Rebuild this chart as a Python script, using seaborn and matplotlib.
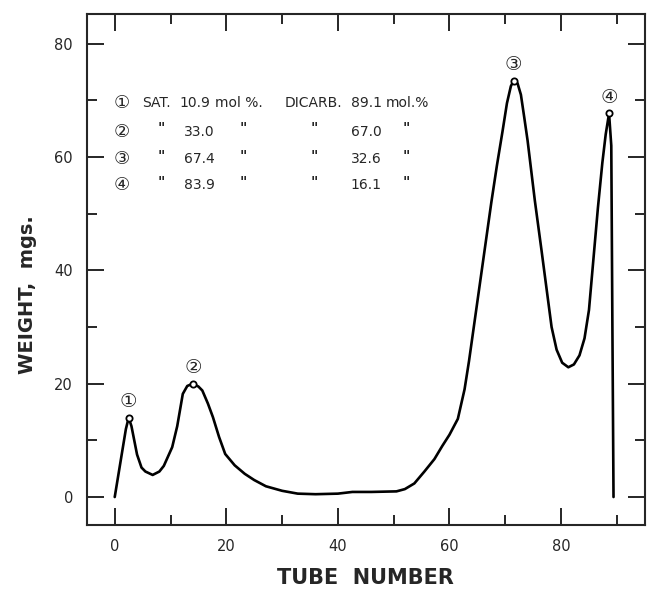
import numpy as np
import pandas as pd
import matplotlib
matplotlib.use("Agg")
import matplotlib.pyplot as plt
import seaborn as sns

# curve
tube = [0, 1, 2, 2.5, 3, 4, 4.8, 5.5, 6.8, 8, 8.8, 10.3, 11.2, 12.2, 13, 14,
        15, 15.7, 16.7, 17.6, 18.7, 19.8, 21.5, 23.3, 25, 27.1, 30, 32.8, 36,
        40, 42.6, 46, 50.5, 52, 53.7, 55.5, 57.3, 58.7, 60, 61.5, 62.7, 63.5,
        64.5, 65.5, 66.5, 67.5, 68.5, 69.5, 70.3, 71, 71.5, 72.2, 72.8, 73.4,
        74.0, 75.3, 76.5, 77.5, 78.3, 79.2, 80.2, 81.3, 82.3, 83.3, 84.2, 85.0,
        85.8, 86.6, 87.4, 88.0, 88.6, 89.0, 89.2, 89.4]
weight = [0, 6, 12, 14, 12.5, 7.5, 5.2, 4.5, 3.9, 4.5, 5.5, 8.8, 12.5, 18.2,
          19.6, 20.0, 19.5, 18.8, 16.5, 14.1, 10.6, 7.6, 5.6, 4.1, 3.0, 1.9,
          1.1, 0.6, 0.5, 0.6, 0.9, 0.9, 1.0, 1.4, 2.4, 4.5, 6.7, 9.0, 11,
          13.8, 19, 24, 31, 38, 45, 52, 58.5, 64.5, 69.5, 72.5, 73.5, 73, 71,
          67, 62.9, 52.3, 43.5, 36, 30, 26, 23.7, 22.9, 23.4, 25, 28, 33,
          42, 51, 59, 64, 67.7, 62, 30, 0]

peak_x = [2.5, 14, 71.5, 88.6]
peak_y = [14, 20, 73.5, 67.7]
peak_labels = ['①', '②', '③', '④']

sat = ['10.9', '33.0', '67.4', '83.9']
dicarb = ['89.1', '67.0', '32.6', '16.1']

sns.set_style("ticks")
plt.rcParams['font.family'] = ['DejaVu Sans']

fig = plt.figure(figsize=(6.48, 5.93), dpi=100)
ax = fig.add_axes([0.134, 0.115, 0.861, 0.861])

df = pd.DataFrame({'tube': tube, 'weight': weight})
sns.lineplot(data=df, x='tube', y='weight', sort=False, estimator=None,
             color='black', linewidth=1.9, ax=ax)
ax.plot(peak_x, peak_y, 'o', mfc='white', mec='black', ms=4.5, mew=1.3)

for px, py, lab in zip(peak_x, peak_y, peak_labels):
    ax.text(px, py + 2.8, lab, ha='center', va='center', fontsize=14)

# composition table
row_y = [69.6, 64.5, 59.6, 55.0]
fs = 10
for i, yy in enumerate(row_y):
    ax.text(1.2, yy, peak_labels[i], ha='center', va='center', fontsize=13)
    if i == 0:
        ax.text(5.0, yy, 'SAT.', ha='left', va='center', fontsize=fs)
        ax.text(18.0, yy, 'mol %.', ha='left', va='center', fontsize=fs)
        ax.text(30.4, yy, 'DICARB.', ha='left', va='center', fontsize=fs)
        ax.text(48.6, yy, 'mol.%', ha='left', va='center', fontsize=fs)
    else:
        for dx in [8.4, 23.0, 35.8, 52.2]:
            ax.text(dx, yy + 0.6, '"', ha='center', va='center', fontsize=10,
                    fontweight='bold')
    ax.text(11.6 if i == 0 else 12.4, yy, sat[i], ha='left', va='center',
            fontsize=fs)
    ax.text(42.3, yy, dicarb[i], ha='left', va='center', fontsize=fs)

ax.set_xlim(-5, 95)
ax.set_ylim(-4.9, 85.2)
ax.set_xticks([0, 20, 40, 60, 80])
ax.set_yticks([0, 20, 40, 60, 80])
ax.set_xticks(np.arange(10, 100, 20), minor=True)
ax.set_yticks(np.arange(10, 90, 20), minor=True)
ax.tick_params(which='both', direction='in', top=True, right=True,
               width=1.4, labelsize=10.5, pad=10)
ax.tick_params(which='major', length=12)
ax.tick_params(which='minor', length=7)
for s in ax.spines.values():
    s.set_linewidth(1.5)

ax.set_xlabel('TUBE  NUMBER', fontsize=15, fontweight='bold', labelpad=10)
ax.set_ylabel('WEIGHT,  mgs.', fontsize=14, fontweight='bold')
ax.yaxis.set_label_coords(-0.09, 0.45)

fig.savefig('out.png', dpi=100)
